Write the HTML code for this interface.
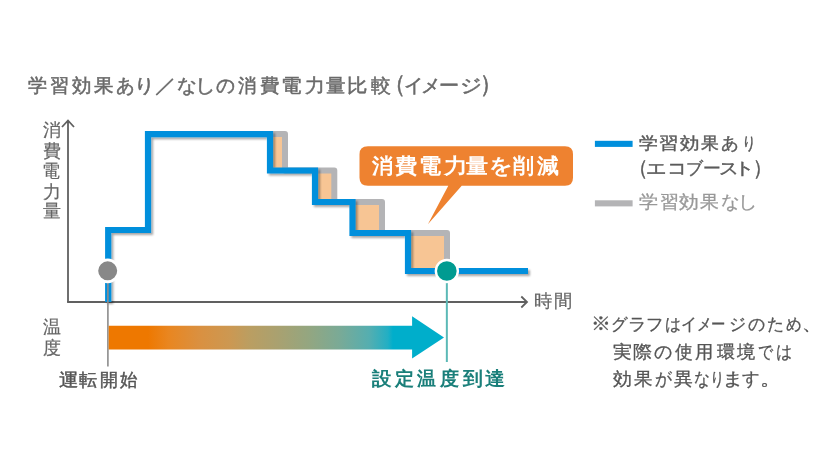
<!DOCTYPE html>
<html lang="ja">
<head>
<meta charset="utf-8">
<style>
html,body{margin:0;padding:0;background:#fff;}
body{width:838px;height:466px;position:relative;overflow:hidden;font-family:"Liberation Sans",sans-serif;}
.ln{position:absolute;left:0;line-height:1;white-space:nowrap;will-change:transform;}
.ln span{position:absolute;top:0;}
svg{position:absolute;left:0;top:0;}
</style>
</head>
<body>
<svg width="838" height="466" viewBox="0 0 838 466">
<defs>
<linearGradient id="grad" x1="108" y1="0" x2="444" y2="0" gradientUnits="userSpaceOnUse">
<stop offset="0" stop-color="#EE7800"/>
<stop offset="0.119" stop-color="#EE7800"/>
<stop offset="0.18" stop-color="#E98620"/>
<stop offset="0.27" stop-color="#DA9040"/>
<stop offset="0.363" stop-color="#CC9852"/>
<stop offset="0.423" stop-color="#BA9E62"/>
<stop offset="0.506" stop-color="#A9A170"/>
<stop offset="0.595" stop-color="#94A680"/>
<stop offset="0.688" stop-color="#7AAA96"/>
<stop offset="0.777" stop-color="#55AEB0"/>
<stop offset="0.833" stop-color="#22AFC4"/>
<stop offset="0.848" stop-color="#00AECB"/>
<stop offset="1" stop-color="#00AECB"/>
</linearGradient>
<filter id="sh" x="-10%" y="-10%" width="120%" height="120%">
<feGaussianBlur in="SourceAlpha" stdDeviation="1.2"/>
<feOffset dx="1.5" dy="1.5" result="b"/>
<feComponentTransfer><feFuncA type="linear" slope="0.35"/></feComponentTransfer>
<feMerge><feMergeNode/><feMergeNode in="SourceGraphic"/></feMerge>
</filter>
</defs>
<path d="M68,302 V120.5 M62,127 L68,120.5 L74,127" fill="none" stroke="#606060" stroke-width="1.8"/>
<path d="M67.1,302 H527 M521.3,296.5 L527,302 L521.3,307.5" fill="none" stroke="#606060" stroke-width="1.8"/>
<rect x="270" y="134.1" width="15" height="36.4" fill="#F7C594"/>
<rect x="315" y="170.5" width="19.3" height="31.5" fill="#F7C594"/>
<rect x="352.5" y="202" width="29.5" height="31" fill="#F7C594"/>
<rect x="408" y="233" width="39" height="38" fill="#F7C594"/>
<path d="M260,134.1 H285 V170.5 H334.3 V202 H382 V233 H447 V271" fill="none" stroke="#B4B4B6" stroke-width="6" stroke-linejoin="round"/>
<path filter="url(#sh)" d="M108.2,302 V230 H148 V134.1 H270 V170.5 H315 V202 H352.5 V233 H408 V271 H528" fill="none" stroke="#008FDC" stroke-width="6.2" stroke-linejoin="miter"/>
<line x1="107.9" y1="272" x2="107.9" y2="366.5" stroke="#8c8c8c" stroke-width="1.6"/>
<line x1="446.85" y1="272" x2="446.85" y2="362" stroke="#5BB9B6" stroke-width="2"/>
<circle cx="107.7" cy="270.85" r="10.9" fill="#888" stroke="#fff" stroke-width="2.8"/>
<circle cx="446.85" cy="270.95" r="11" fill="#009B91" stroke="#fff" stroke-width="2.4"/>
<path d="M108.7,325.7 H412.1 V316.3 L444,337.4 L412.1,358.4 V349.4 H108.7 Z" fill="url(#grad)"/>
<path d="M368,146.3 H565 Q573,146.3 573,154.3 V177.8 Q573,185.8 565,185.8 H461.7 L427.9,224.2 L448.3,185.8 H368 Q359.5,185.8 359.5,177.8 V154.3 Q359.5,146.3 368,146.3 Z" fill="#EE8230"/>
<rect x="594.9" y="140.8" width="37.7" height="6.1" fill="#008FDC"/>
<rect x="594.9" y="200.3" width="37.7" height="6.1" fill="#B4B4B6"/>
</svg>

<div class="ln" style="font-size:19.28px;top:76.01px;color:#6a6a6a;-webkit-text-stroke:0.5px #6a6a6a;"><span style="left:28.10px;transform:scale(1.009,1.000);transform-origin:9.45px 60%;">学</span><span style="left:49.79px;transform:scale(1.006,1.000);transform-origin:9.16px 60%;">習</span><span style="left:71.99px;transform:scale(1.020,1.000);transform-origin:9.01px 60%;">効</span><span style="left:94.05px;transform:scale(1.026,1.000);transform-origin:9.45px 60%;">果</span><span style="left:116.20px;transform:scale(0.983,1.000);transform-origin:9.30px 60%;">あ</span><span style="left:134.85px;transform:scale(1.097,1.000);transform-origin:9.30px 60%;">り</span><span style="left:155.62px;transform:scale(1.129,1.000);transform-origin:8.63px 60%;">／</span><span style="left:176.55px;transform:scale(1.037,1.000);transform-origin:9.40px 60%;">な</span><span style="left:196.18px;transform:scale(1.070,1.000);transform-origin:10.27px 60%;">し</span><span style="left:215.66px;transform:scale(0.992,1.000);transform-origin:9.59px 60%;">の</span><span style="left:237.54px;transform:scale(0.970,1.000);transform-origin:9.26px 60%;">消</span><span style="left:260.16px;transform:scale(1.026,1.000);transform-origin:9.59px 60%;">費</span><span style="left:281.73px;transform:scale(1.079,1.000);transform-origin:10.32px 60%;">電</span><span style="left:305.02px;transform:scale(1.050,1.000);transform-origin:8.58px 60%;">力</span><span style="left:326.35px;transform:scale(1.026,1.000);transform-origin:9.45px 60%;">量</span><span style="left:347.97px;transform:scale(1.073,1.000);transform-origin:9.88px 60%;">比</span><span style="left:370.85px;transform:scale(1.048,1.000);transform-origin:9.40px 60%;">較</span><span style="left:385.49px;top:-1.00px;transform:scale(1.100,1.220);transform-origin:14.41px 60%;">（</span><span style="left:403.53px;transform:scale(1.023,1.000);transform-origin:8.82px 60%;">イ</span><span style="left:420.88px;transform:scale(1.030,1.000);transform-origin:8.82px 60%;">メ</span><span style="left:439.71px;transform:scale(1.056,1.000);transform-origin:9.64px 60%;">ー</span><span style="left:460.77px;transform:scale(1.139,1.000);transform-origin:9.98px 60%;">ジ</span><span style="left:479.88px;top:-1.00px;transform:scale(1.100,1.220);transform-origin:4.87px 60%;">）</span></div>
<div class="ln" style="font-size:18.20px;top:0;color:#666;-webkit-text-stroke:0.2px #666;"><span style="left:43.14px;top:121.34px">消</span><span style="left:42.68px;top:141.75px">費</span><span style="left:41.68px;top:161.61px">電</span><span style="left:42.77px;top:182.57px">力</span><span style="left:43.14px;top:202.34px">量</span></div>
<div class="ln" style="font-size:18.00px;top:0;color:#666;-webkit-text-stroke:0.2px #666;"><span style="left:42.83px;top:317.79px">温</span><span style="left:42.56px;top:339.02px">度</span></div>
<div class="ln" style="font-size:17.59px;top:292.56px;color:#666;-webkit-text-stroke:0.2px #666;"><span style="left:533.78px;transform:scale(1.018,1.000);transform-origin:9.02px 60%;">時</span><span style="left:553.88px;transform:scale(1.018,1.000);transform-origin:8.62px 60%;">間</span></div>
<div class="ln" style="font-size:20.82px;top:155.58px;color:#fff;font-weight:bold;"><span style="left:372.15px;transform:scale(1.007,1.000);transform-origin:10.00px 60%;">消</span><span style="left:396.14px;transform:scale(1.061,1.000);transform-origin:10.36px 60%;">費</span><span style="left:419.66px;transform:scale(1.060,1.000);transform-origin:11.14px 60%;">電</span><span style="left:444.68px;transform:scale(1.120,1.000);transform-origin:9.27px 60%;">力</span><span style="left:467.20px;transform:scale(1.052,1.000);transform-origin:10.20px 60%;">量</span><span style="left:490.03px;transform:scale(1.099,1.000);transform-origin:10.57px 60%;">を</span><span style="left:513.41px;transform:scale(1.002,1.000);transform-origin:9.94px 60%;">削</span><span style="left:537.25px;transform:scale(1.037,1.000);transform-origin:10.15px 60%;">減</span></div>
<div class="ln" style="font-size:18.43px;top:370.75px;color:#555;-webkit-text-stroke:0.45px #555;"><span style="left:59.56px;transform:scale(1.073,1.000);transform-origin:8.89px 60%;">運</span><span style="left:79.48px;transform:scale(1.005,1.000);transform-origin:9.12px 60%;">転</span><span style="left:99.57px;transform:scale(0.997,1.000);transform-origin:9.03px 60%;">開</span><span style="left:119.77px;transform:scale(0.973,1.000);transform-origin:8.98px 60%;">始</span></div>
<div class="ln" style="font-size:19.49px;top:369.40px;color:#1A7F7A;font-weight:bold;"><span style="left:372.15px;transform:scale(1.026,1.000);transform-origin:9.45px 60%;">設</span><span style="left:394.54px;transform:scale(1.004,1.000);transform-origin:9.16px 60%;">定</span><span style="left:416.95px;transform:scale(0.994,1.000);transform-origin:9.55px 60%;">温</span><span style="left:440.45px;transform:scale(1.004,1.000);transform-origin:9.55px 60%;">度</span><span style="left:462.94px;transform:scale(1.048,1.000);transform-origin:9.16px 60%;">到</span><span style="left:485.09px;transform:scale(1.043,1.000);transform-origin:9.41px 60%;">達</span></div>
<div class="ln" style="font-size:17.40px;top:134.85px;color:#5a5a5a;-webkit-text-stroke:0.4px #5a5a5a;"><span style="left:639.83px;transform:scale(1.106,1.000);transform-origin:8.52px 60%;">学</span><span style="left:660.49px;transform:scale(1.143,1.000);transform-origin:8.26px 60%;">習</span><span style="left:681.17px;transform:scale(1.143,1.000);transform-origin:8.13px 60%;">効</span><span style="left:701.03px;transform:scale(1.045,1.000);transform-origin:8.52px 60%;">果</span><span style="left:720.86px;transform:scale(1.042,1.000);transform-origin:8.39px 60%;">あ</span><span style="left:740.46px;transform:scale(0.821,1.000);transform-origin:8.39px 60%;">り</span></div>
<div class="ln" style="font-size:16.92px;top:161.13px;color:#5a5a5a;-webkit-text-stroke:0.4px #5a5a5a;"><span style="left:629.81px;top:-0.50px;transform:scale(1.100,1.220);transform-origin:12.64px 60%;">（</span><span style="left:648.24px;transform:scale(1.196,1.000);transform-origin:8.46px 60%;">エ</span><span style="left:668.47px;transform:scale(1.164,1.000);transform-origin:8.08px 60%;">コ</span><span style="left:686.07px;transform:scale(0.997,1.000);transform-origin:9.43px 60%;">ブ</span><span style="left:703.09px;transform:scale(1.045,1.000);transform-origin:8.46px 60%;">ー</span><span style="left:720.17px;transform:scale(1.153,1.000);transform-origin:8.03px 60%;">ス</span><span style="left:735.75px;transform:scale(1.200,1.000);transform-origin:9.60px 60%;">ト</span><span style="left:752.88px;top:-0.50px;transform:scale(1.100,1.220);transform-origin:4.27px 60%;">）</span></div>
<div class="ln" style="font-size:17.60px;top:194.15px;color:#999;-webkit-text-stroke:0.3px #999;"><span style="left:639.87px;transform:scale(1.062,1.000);transform-origin:8.63px 60%;">学</span><span style="left:659.79px;transform:scale(1.048,1.000);transform-origin:8.36px 60%;">習</span><span style="left:680.17px;transform:scale(1.093,1.000);transform-origin:8.23px 60%;">効</span><span style="left:700.42px;transform:scale(1.044,1.000);transform-origin:8.63px 60%;">果</span><span style="left:720.77px;transform:scale(1.032,1.000);transform-origin:8.58px 60%;">な</span><span style="left:738.78px;transform:scale(1.063,1.000);transform-origin:9.37px 60%;">し</span></div>
<div class="ln" style="font-size:17.34px;top:315.96px;color:#555;-webkit-text-stroke:0.3px #555;"><span style="left:591.86px;transform:scale(1.146,1.100);transform-origin:7.24px 60%;">※</span><span style="left:610.99px;transform:scale(0.965,1.000);transform-origin:9.71px 60%;">グ</span><span style="left:629.16px;transform:scale(1.090,1.000);transform-origin:8.24px 60%;">ラ</span><span style="left:645.95px;transform:scale(1.026,1.000);transform-origin:8.50px 60%;">フ</span><span style="left:663.67px;transform:scale(0.931,1.000);transform-origin:8.63px 60%;">は</span><span style="left:680.72px;transform:scale(0.937,1.000);transform-origin:7.93px 60%;">イ</span><span style="left:695.92px;transform:scale(0.867,1.000);transform-origin:7.93px 60%;">メ</span><span style="left:710.33px;transform:scale(0.844,1.000);transform-origin:8.67px 60%;">ー</span><span style="left:728.98px;transform:scale(0.998,1.000);transform-origin:8.97px 60%;">ジ</span><span style="left:748.12px;transform:scale(1.002,1.000);transform-origin:8.63px 60%;">の</span><span style="left:767.43px;transform:scale(0.995,1.000);transform-origin:8.32px 60%;">た</span><span style="left:784.65px;transform:scale(0.912,1.000);transform-origin:8.45px 60%;">め</span><span style="left:802.68px;transform:scale(1.200,1.000);transform-origin:3.47px 60%;">、</span></div>
<div class="ln" style="font-size:18.09px;top:342.99px;color:#555;-webkit-text-stroke:0.3px #555;"><span style="left:613.14px;transform:scale(1.056,1.000);transform-origin:8.86px 60%;">実</span><span style="left:633.51px;transform:scale(1.063,1.000);transform-origin:9.14px 60%;">際</span><span style="left:654.15px;transform:scale(1.009,1.000);transform-origin:9.00px 60%;">の</span><span style="left:675.36px;transform:scale(0.983,1.000);transform-origin:8.59px 60%;">使</span><span style="left:694.97px;transform:scale(1.016,1.000);transform-origin:8.28px 60%;">用</span><span style="left:716.66px;transform:scale(1.007,1.000);transform-origin:8.64px 60%;">環</span><span style="left:737.33px;transform:scale(1.015,1.000);transform-origin:8.77px 60%;">境</span><span style="left:756.42px;transform:scale(0.832,1.000);transform-origin:9.68px 60%;">で</span><span style="left:774.70px;transform:scale(0.892,1.000);transform-origin:9.00px 60%;">は</span></div>
<div class="ln" style="font-size:18.37px;top:370.43px;color:#555;-webkit-text-stroke:0.3px #555;"><span style="left:613.21px;transform:scale(1.047,1.000);transform-origin:8.59px 60%;">効</span><span style="left:633.65px;transform:scale(1.024,1.000);transform-origin:9.00px 60%;">果</span><span style="left:653.55px;transform:scale(0.933,1.000);transform-origin:9.60px 60%;">が</span><span style="left:674.00px;transform:scale(1.043,1.000);transform-origin:9.00px 60%;">異</span><span style="left:693.05px;transform:scale(0.884,1.000);transform-origin:8.95px 60%;">な</span><span style="left:708.29px;transform:scale(0.800,1.000);transform-origin:8.86px 60%;">り</span><span style="left:724.25px;transform:scale(1.200,1.000);transform-origin:9.00px 60%;">ま</span><span style="left:741.98px;transform:scale(0.970,1.000);transform-origin:8.77px 60%;">す</span><span style="left:761.09px;transform:scale(1.200,1.000);transform-origin:3.86px 60%;">。</span></div>
</body>
</html>
